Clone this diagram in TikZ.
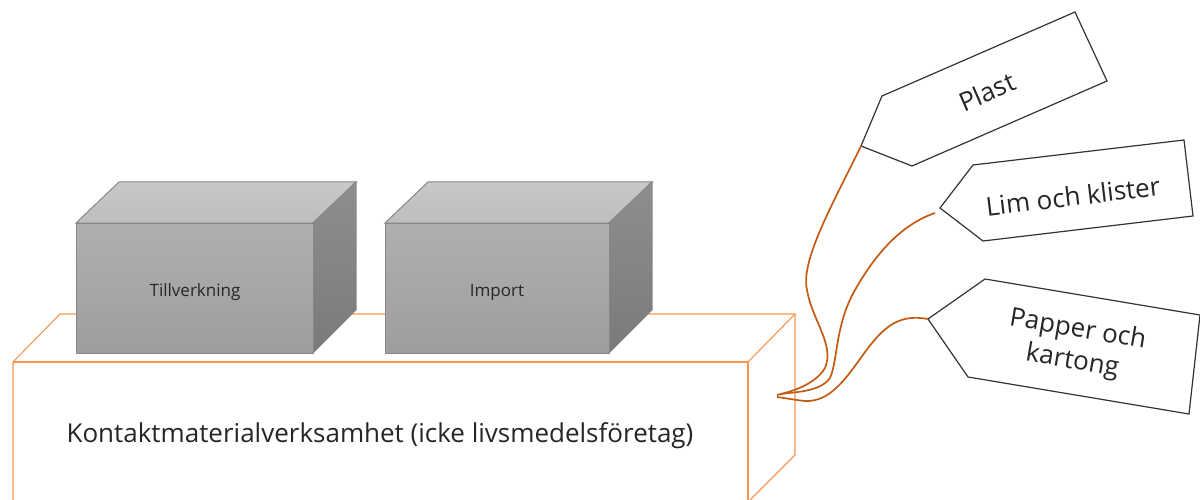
\documentclass[tikz,border=0pt]{standalone}
\usepackage{fontspec}
\setmainfont{Open Sans}
\definecolor{orangeline}{RGB}{246,150,80}
\definecolor{curve}{RGB}{197,90,17}
\definecolor{tagline}{RGB}{51,51,51}
\definecolor{boxline}{RGB}{135,135,135}
\definecolor{txt}{RGB}{38,38,38}
\begin{document}
\begin{tikzpicture}[x=1pt,y=-1pt,
  obox/.style={draw=orangeline,line width=1.1pt,line join=miter},
  gfront/.style={draw=boxline,line width=1pt,top color={rgb,255:red,175;green,175;blue,175},bottom color={rgb,255:red,158;green,158;blue,158}},
  gtop/.style={draw=boxline,line width=1pt,top color={rgb,255:red,200;green,200;blue,200},bottom color={rgb,255:red,190;green,190;blue,190}},
  gside/.style={draw=boxline,line width=1pt,top color={rgb,255:red,142;green,142;blue,142},bottom color={rgb,255:red,122;green,122;blue,122}},
  tag/.style={draw=tagline,line width=1.2pt,fill=white,line join=miter},
  conn/.style={draw=curve,line width=1.7pt},
  boxlabel/.style={font=\fontsize{17}{21}\selectfont,text=txt,inner sep=0pt},
  taglabel/.style={font=\fontsize{26}{32}\selectfont,text=txt,inner sep=0pt,align=center}]
\useasboundingbox (0,0) rectangle (1200,500);
% orange base box
\draw[obox] (13,505) -- (13,362) -- (60,314) -- (795,314) -- (748,362);
\draw[obox] (13,362) -- (748,362) -- (748,505);
\draw[obox] (795,314) -- (795,455) -- (748,502);
\node[font=\fontsize{26}{31}\selectfont,text=txt,inner sep=0pt] (base) at (380,436) {Kontaktmaterialverksamhet (icke livsmedelsföretag)};
% box Tillverkning
\draw[gtop] (76,223) -- (119,182) -- (356,182) -- (313,223) -- cycle;
\draw[gside] (313,223) -- (356,182) -- (356,310) -- (313,353) -- cycle;
\draw[gfront] (76,223) rectangle (313,353);
\node[boxlabel] (till) at (195,292) {Tillverkning};
% box Import
\draw[gtop] (385,223) -- (428,182) -- (652,182) -- (609,223) -- cycle;
\draw[gside] (609,223) -- (652,182) -- (652,310) -- (609,353) -- cycle;
\draw[gfront] (385,223) rectangle (609,353);
\node[boxlabel] (imp) at (497,292) {Import};
% tags
\draw[tag] (861,146) -- (882,96) -- (1075,12) -- (1107,81) -- (912,166) -- cycle;
\node[taglabel,rotate=23.5] (plast) at (987,92) {Plast};
\draw[tag] (940,208) -- (973,165) -- (1184,140) -- (1193,216) -- (983,241) -- cycle;
\node[taglabel,rotate=6.8] (lim) at (1073,196) {Lim och klister};
\draw[tag] (928,319) -- (985,279) -- (1200,315) -- (1189,414) -- (968,377) -- cycle;
\node[taglabel,rotate=-9.6] (papper) at (1075,346) {Papper och\\kartong};
% connectors
\coordinate (tPlast) at (861,146);
\coordinate (tLim) at (935,213);
\coordinate (tPapper) at (928,319);
\coordinate (e1) at (777,395);
\coordinate (e2) at (780,394);
\coordinate (e3) at (777,397);
\draw[conn] (tPlast) .. controls (835,200) and (800,260) .. (807,290)
  .. controls (812,320) and (835,345) .. (825,368)
  .. controls (815,385) and (790,392) .. (e1);
\draw[conn] (tLim) .. controls (900,225) and (875,255) .. (855,290)
  .. controls (835,325) and (838,360) .. (830,378)
  .. controls (820,392) and (795,392) .. (e2);
\draw[conn] (tPapper) .. controls (900,314) and (885,325) .. (865,352)
  .. controls (845,380) and (830,402) .. (805,401)
  .. controls (795,400) and (785,398) .. (e3);
\end{tikzpicture}
\end{document}
